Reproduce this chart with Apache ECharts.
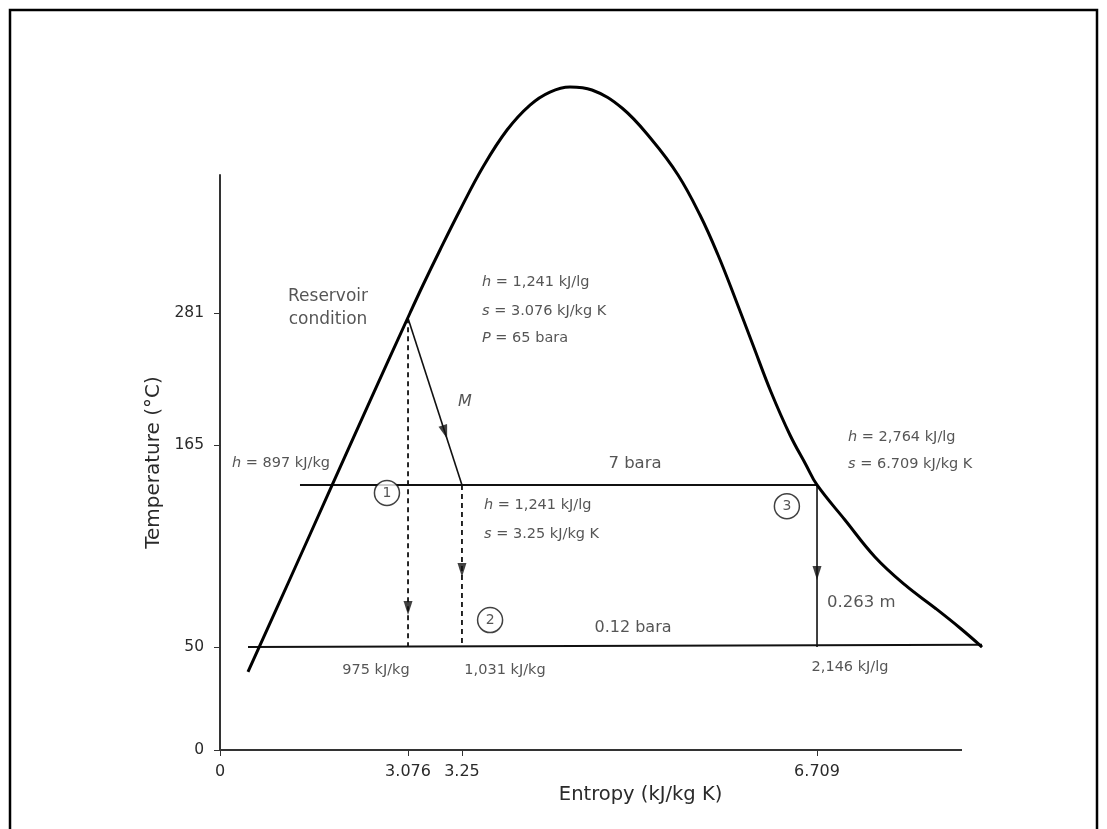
<!DOCTYPE html>
<html>
<head>
<meta charset="utf-8">
<script src="https://cdn.jsdelivr.net/npm/echarts@6/dist/echarts.min.js"></script>
<style>
html,body{margin:0;padding:0;background:#fff;}
#chart{width:1107px;height:829px;}
</style>
</head>
<body>
<div id="chart"></div>
<script>
// Schematic T-s diagram: both axes use diagram units (0-100 along each drawn axis line),
// the printed tick labels sit at their (non-linear) schematic positions.
const xTickPos = [0, 25.34, 32.61, 80.46];
const xTickLabels = ['0', '3.076', '3.25', '6.709'];
const yTickPos = [0, 17.9, 53.0, 76.0];
const yTickLabels = ['0', '50', '165', '281'];
const xAxisLineEnd = 100;

// saturation dome (diagram units)
const domeCurve = [
  [3.77,13.57],[9.43,29.74],[14.82,45.22],[20.22,60.70],[25.61,76.00],
  [27.36,80.87],[29.65,86.96],[32.35,93.91],[35.44,101.39],[38.68,107.83],
  [41.78,112.17],[44.47,114.43],[47.17,115.30],[50.13,114.78],[54.18,111.65],
  [58.22,106.09],[61.73,100.00],[64.69,93.04],[67.12,86.09],[69.41,78.61],
  [71.83,70.43],[74.26,62.26],[76.82,54.78],[78.98,49.57],[80.46,46.09],
  [84.23,40.00],[88.27,33.57],[92.32,28.70],[96.36,24.70],[99.73,21.22],[102.70,17.91]
];
// pressure lines
const line7bara = [[10.78,46.09],[80.46,46.09]];
const line012bara = [[3.77,17.9],[102.7,18.3]];
// process paths
const reservoirPoint = [25.34,75.1];
const flashPoint = [32.61,46.09];
const pathM = [reservoirPoint, flashPoint];
const drop1 = [reservoirPoint, [25.34,17.9]];
const drop2 = [flashPoint, [32.61,17.9]];
const drop3 = [[80.46,46.09],[80.46,17.9]];
// arrow heads: [u, v, rotation]
const arrowHeads = [[25.34,24.7,180],[32.61,31.3,180],[80.46,30.8,180],[30.32,55.30,198]];
// numbered states
const stateLabels = ['1','2','3'];
const statePos = [[22.5,44.7],[36.4,22.6],[76.4,42.4]];
// annotation texts and anchors
const noteTexts = [
  'Reservoir\ncondition',
  '{i|h} = 1,241 kJ/lg', '{i|s} = 3.076 kJ/kg K', '{i|P} = 65 bara',
  '{i|M}',
  '{i|h} = 897 kJ/kg',
  '7 bara',
  '{i|h} = 1,241 kJ/lg', '{i|s} = 3.25 kJ/kg K',
  '{i|h} = 2,764 kJ/lg', '{i|s} = 6.709 kJ/kg K',
  '0.263 m', '0.12 bara',
  '975 kJ/kg', '1,031 kJ/kg', '2,146 kJ/lg'
];
const notePos = [
  [14.56,76.87],
  [35.31,81.39],[35.31,76.35],[35.31,71.65],
  [33.02,60.52],
  [1.62,49.91],
  [55.93,49.74],
  [35.58,42.61],[35.58,37.57],
  [84.64,54.43],[84.64,49.74],
  [81.81,25.57],[55.66,21.22],
  [21.02,13.91],[38.41,13.91],[84.91,14.43]
];
const noteAlign = ['center','left','left','left','center','left','center','left','left','left','left','left','center','center','center','center'];
const noteSize = [17,14.5,14.5,14.5,16,14.5,16.5,14.5,14.5,14.5,14.5,16.5,16,14.5,14.5,14.5];

const FONT = '"DejaVu Sans", Verdana, sans-serif';
const INK = '#111';
const TXT = '#2a2a2a';

function tickLabel(pos, labels){
  return function(v){
    let best = 0, d = Infinity;
    pos.forEach((p,i)=>{ if (Math.abs(p-v) < d){ d = Math.abs(p-v); best = i; } });
    return labels[best];
  };
}

function segSeries(data, width, type, color){
  return {
    type:'line', data:data, clip:false, symbol:'none', silent:true,
    lineStyle:{color:color || INK, width:width, type:type || 'solid'},
    z: 3
  };
}

const chart = echarts.init(document.getElementById('chart'), null, {renderer:'canvas'});
chart.setOption({
  backgroundColor:'#fff',
  animation:false,
  textStyle:{fontFamily:FONT},
  // x range extended to 105 so the dome tail is not cut; the axis line itself stops at 100
  grid:{left:220, right:107.9, top:175, bottom:79},
  xAxis:{
    type:'value', min:0, max:105,
    name:'Entropy (kJ/kg K)', nameLocation:'middle', nameGap:30,
    nameTextStyle:{fontSize:19.5, color:TXT, fontFamily:FONT, padding:[0,0,0,62]},
    axisLine:{show:false},
    axisTick:{show:true, customValues:xTickPos, length:6, lineStyle:{color:'#333', width:1}},
    axisLabel:{customValues:xTickPos, formatter:tickLabel(xTickPos, xTickLabels), fontSize:16, color:TXT, margin:14, fontFamily:FONT},
    splitLine:{show:false}
  },
  yAxis:{
    type:'value', min:0, max:100,
    name:'Temperature (°C)', nameLocation:'middle', nameGap:53,
    nameTextStyle:{fontSize:20, color:TXT, fontFamily:FONT},
    axisLine:{show:true, lineStyle:{color:'#333', width:2}},
    axisTick:{show:true, customValues:yTickPos, length:6, lineStyle:{color:'#333', width:1}},
    axisLabel:{customValues:yTickPos, formatter:tickLabel(yTickPos, yTickLabels), fontSize:15.5, color:TXT, margin:16, fontFamily:FONT},
    splitLine:{show:false}
  },
  graphic:[{
    type:'rect', shape:{x:10, y:10, width:1087, height:840},
    style:{fill:'none', stroke:'#000', lineWidth:2.5}, silent:true, z:0
  }],
  series:[
    segSeries([[0,0],[xAxisLineEnd,0]], 2, 'solid', '#333'),
    {
      type:'line', data:domeCurve, clip:false, symbol:'none', smooth:0.4,
      lineStyle:{color:'#000', width:3}, z:4
    },
    segSeries(line7bara, 2),
    segSeries(line012bara, 2),
    segSeries(pathM, 1.6),
    segSeries(drop1, 1.8, [5,4]),
    segSeries(drop2, 1.8, [5,4]),
    segSeries(drop3, 1.6),
    {
      type:'scatter', clip:false, silent:true, z:6,
      data: arrowHeads.map(a => ({value:[a[0],a[1]], symbolRotate:a[2]})),
      symbol:'triangle', symbolSize:[9,14],
      itemStyle:{color:INK}
    },
    {
      type:'scatter', clip:false, silent:true, z:6,
      data: statePos.map((p,i)=>({value:p, name:stateLabels[i]})),
      symbol:'circle', symbolSize:25,
      itemStyle:{color:'#fff', borderColor:INK, borderWidth:1.5},
      label:{show:true, position:'inside', formatter:'{b}', fontSize:14, color:TXT, fontFamily:FONT}
    },
    {
      type:'scatter', clip:false, silent:true, z:7,
      data: notePos.map((p,i)=>({
        value:p,
        label:{formatter:noteTexts[i], align:noteAlign[i], fontSize:noteSize[i],
               rich:{i:{fontStyle:'italic', fontSize:noteSize[i], color:TXT, fontFamily:FONT}}}
      })),
      symbolSize:1, itemStyle:{color:'rgba(0,0,0,0)'},
      label:{show:true, position:'inside', verticalAlign:'middle', color:TXT, fontFamily:FONT, lineHeight:23}
    }
  ]
});
</script>
</body>
</html>
